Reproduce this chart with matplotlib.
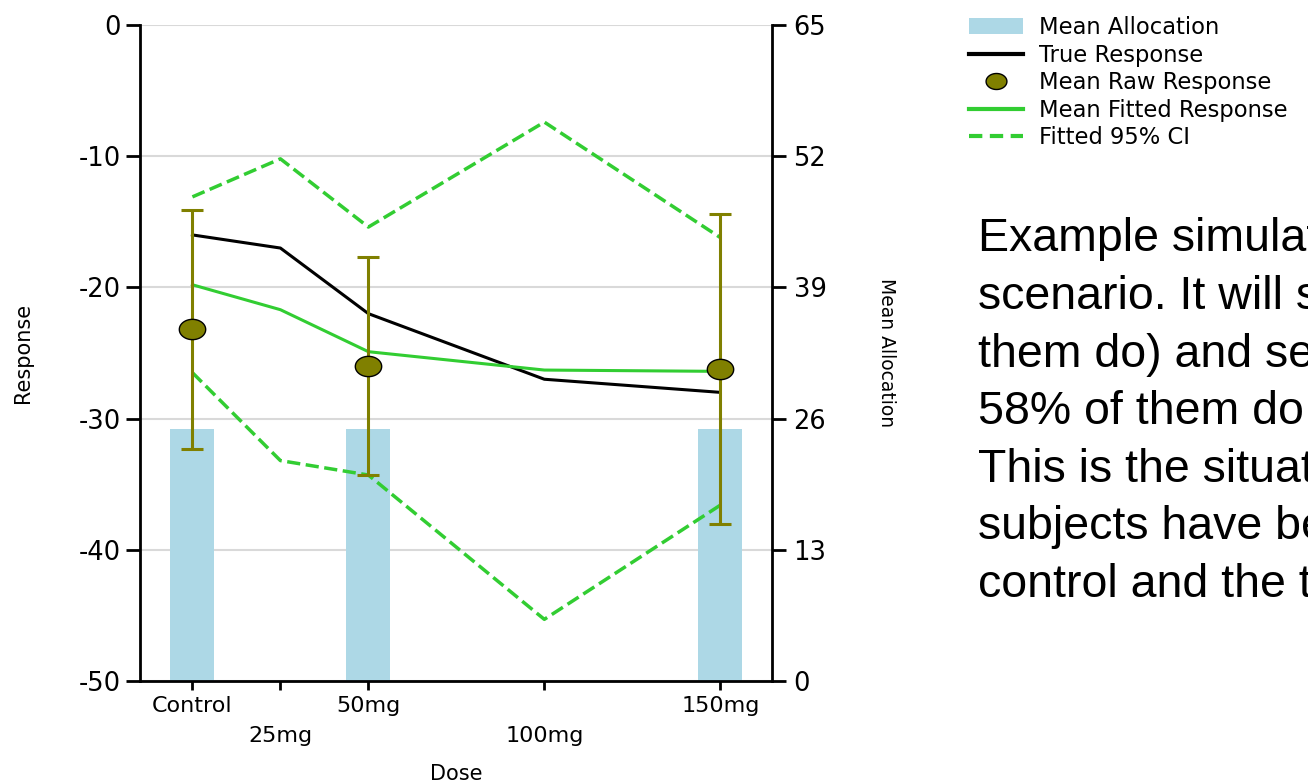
import matplotlib.pyplot as plt
from matplotlib.lines import Line2D
from matplotlib.patches import Patch
from matplotlib.path import Path
import numpy as np

#### Values
doses = [0, 25, 50, 100, 150]
dose_labels = ['Control', '\n25mg', '50mg', '\n100mg', '150mg']
mean_alloc = [25, 0, 25, 0, 25]
true_resp = [-16.0, -17.0, -22.0, -27.0, -28.0]
fitted_resp = [-19.8, -21.7, -24.9, -26.3, -26.4]
ci_upper = [-13.1, -10.2, -15.4, -7.4, -16.2]
ci_lower = [-26.5, -33.2, -34.3, -45.3, -36.6]
raw_doses = [0, 50, 150]
raw_mean = [-23.2, -26.0, -26.2]
raw_err = [9.1, 8.3, 11.8]
resp_ticks = [0, -10, -20, -30, -40, -50]
alloc_ticks = [0, 13, 26, 39, 52, 65]

note = ("Example simulation of a null\n"
        "scenario. It will stop for futility (42% of\n"
        "them do) and see no effect (only\n"
        "58% of them do not).\n"
        "This is the situation after 100\n"
        "subjects have been allocated to\n"
        "control and the top doses.")

#### Styles
bar_col = '#ADD8E6'
green = '#32CD32'
olive = '#808000'
grid_col = '#D9D9D9'
dash = (0, (3.8, 1.6))

plt.rcParams['font.family'] = ['DejaVu Sans']
plt.rcParams['axes.unicode_minus'] = False

# slightly wide ellipse for the raw response marker
t = np.linspace(0, 2 * np.pi, 60)
ellipse = Path(np.column_stack([1.3 * np.cos(t), np.sin(t)]), closed=True)

fig = plt.figure(figsize=(13.08, 7.84), dpi=100)
ax = fig.add_axes([140 / 1308, 1 - 681 / 784, 632 / 1308, 656 / 784])
ax2 = ax.twinx()
ax.set_zorder(ax2.get_zorder() + 1)
ax.patch.set_visible(False)

#### Allocation bars (right axis)
ax2.bar(doses, mean_alloc, width=12.5, color=bar_col, zorder=2)
ax2.set_ylim(0, 65)
ax2.set_yticks(alloc_ticks)
ax2.yaxis.grid(True, color=grid_col, lw=1.5)
ax2.set_axisbelow(True)

#### Response lines (left axis)
ax.plot(doses, true_resp, color='black', lw=2.2)
ax.plot(doses, fitted_resp, color=green, lw=2.2)
ax.plot(doses, ci_upper, color=green, lw=2.5, ls=dash)
ax.plot(doses, ci_lower, color=green, lw=2.5, ls=dash)
ax.errorbar(raw_doses, raw_mean, yerr=raw_err, fmt='none', ecolor=olive,
            elinewidth=2.2, capsize=8, capthick=2.2)
ax.plot(raw_doses, raw_mean, ls='none', marker=ellipse, ms=19,
        mfc=olive, mec='black', mew=1)

ax.set_xlim(-14.9, 164.7)
ax.set_ylim(-50, 0)
ax.set_yticks(resp_ticks)
ax.set_xticks(doses, dose_labels)
for lbl in ax.get_xticklabels():
    lbl.set_linespacing(1.66)

#### Spines and ticks
for s in ['top', 'right']:
    ax.spines[s].set_visible(False)
for s in ['top', 'left', 'bottom']:
    ax2.spines[s].set_visible(False)
ax.spines['left'].set_linewidth(2)
ax.spines['bottom'].set_linewidth(2)
ax2.spines['right'].set_linewidth(2)
ax.tick_params(axis='y', length=10, width=2, labelsize=18.5, pad=4)
ax.tick_params(axis='x', length=6.5, width=2, labelsize=16, pad=4)
ax2.tick_params(axis='y', length=10, width=2, labelsize=18.5, pad=5.5)

#### Axis titles
ax.set_ylabel('Response', fontsize=15, rotation=90, ha='center', va='center',
              rotation_mode='default')
ax.yaxis.set_label_coords((23 - 140) / 632, 0.5)
ax2.set_ylabel('Mean Allocation', fontsize=13.5, rotation=270, ha='center',
               va='center', rotation_mode='default')
ax2.yaxis.set_label_coords((886 - 140) / 632, 0.5)
ax.set_xlabel('Dose', fontsize=15, va='center')
ax.xaxis.set_label_coords(0.5, (681 - 774) / 656)

#### Legend
handles = [Patch(facecolor=bar_col),
           Line2D([], [], color='black', lw=3),
           Line2D([], [], ls='none', marker=ellipse, ms=15, mfc=olive, mec='black', mew=1),
           Line2D([], [], color=green, lw=3),
           Line2D([], [], color=green, lw=3, ls=(0, (3.2, 1.8)))]
labels = ['Mean Allocation', 'True Response', 'Mean Raw Response',
          'Mean Fitted Response', 'Fitted 95% CI']
fig.legend(handles, labels, loc='upper left', bbox_to_anchor=(969 / 1308, 1 - 16 / 784),
           frameon=False, borderpad=0, borderaxespad=0, handlelength=2.4,
           handletextpad=0.68, labelspacing=0.2, fontsize=16.3)

#### Side note (baseline alignment uses the last line)
fig.text(978 / 1308, 1 - 597 / 784, note, fontsize=33.5, family='Liberation Sans',
         ha='left', va='baseline', linespacing=1.4)

fig.savefig('out.png', dpi=100)
